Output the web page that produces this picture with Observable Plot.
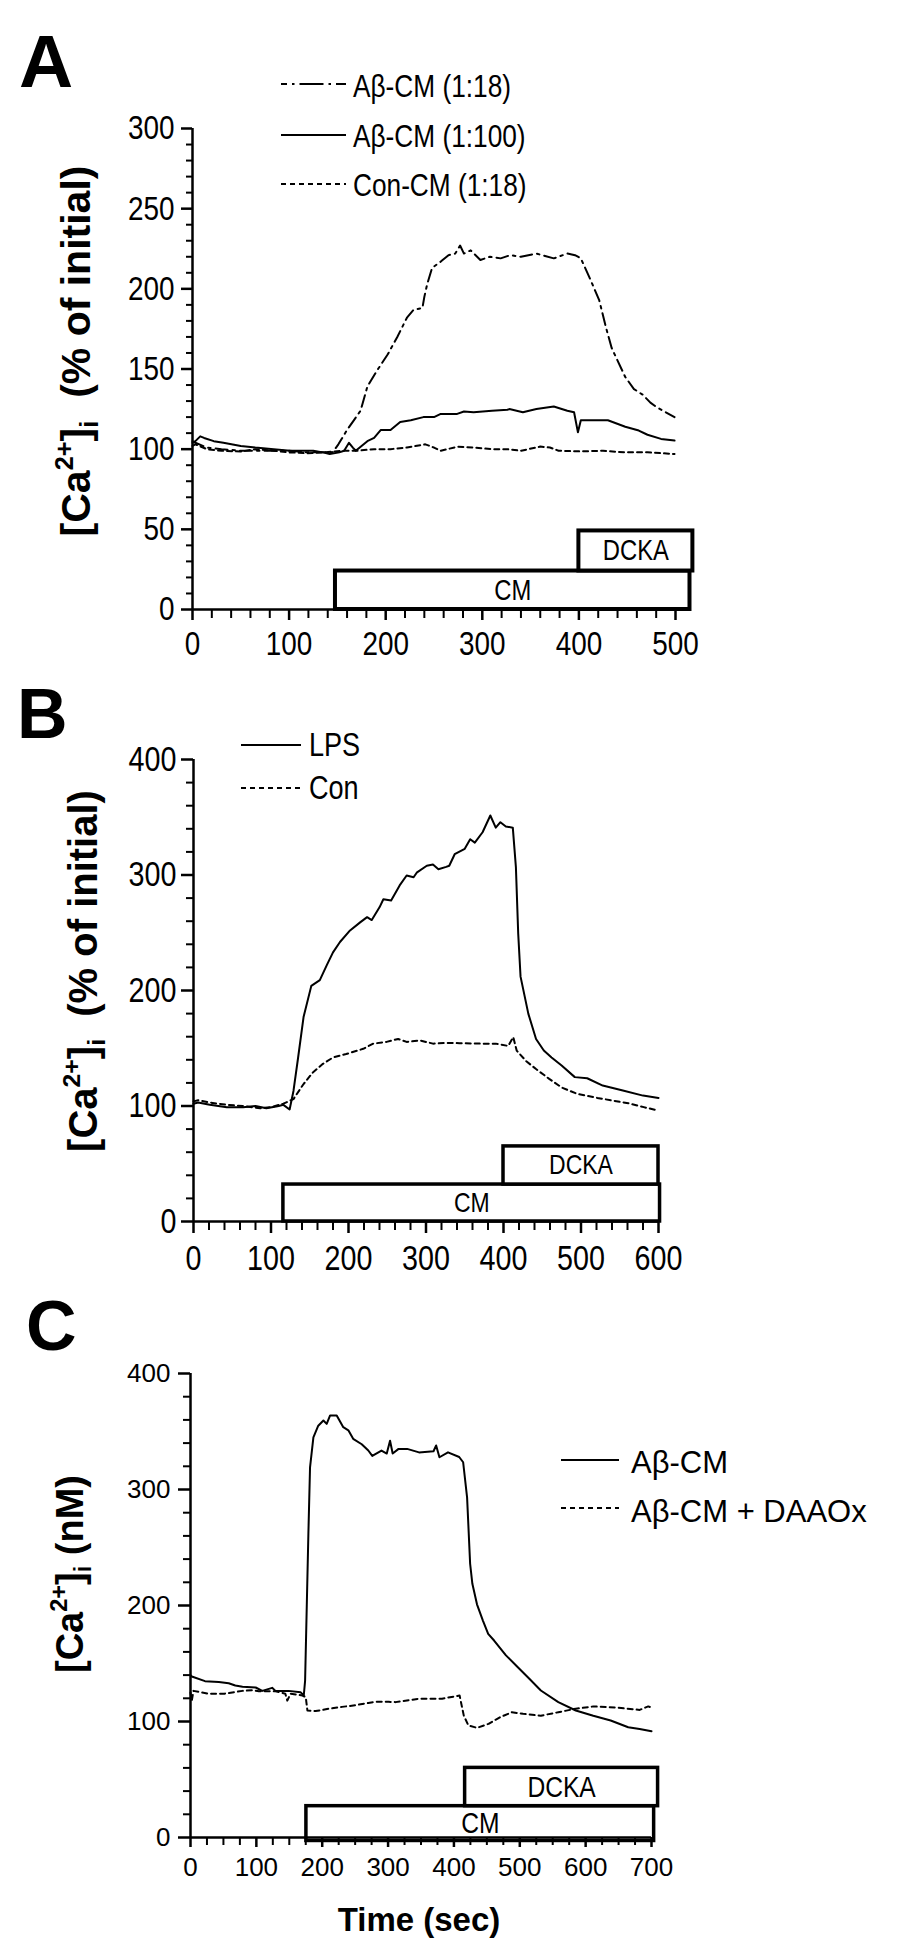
<!DOCTYPE html>
<html><head><meta charset="utf-8">
<script src="https://cdn.jsdelivr.net/npm/d3@7"></script>
<script src="https://cdn.jsdelivr.net/npm/@observablehq/plot@0.6"></script>
<style>
html,body{margin:0;padding:0;background:#fff;}
#page{position:relative;width:912px;height:1960px;background:#fff;overflow:hidden;}
#page > svg{position:absolute;left:0;}
#overlay{position:absolute;left:0;top:0;}
</style></head><body><div id="page"></div>
<script>
// ---------------- Panel A data (time in s, [Ca2+]i as % of initial) ----------------
const aTime118 = [0,3,15,30,50,70,84,100,119,135,145,151,160,167,174,181,191,202,212,222,229,238,240,243,248,257,265,272,277,281,288,298,308,319,329,340,356,374,388,396,402,411,421,428,434,448,457,466,474,481,490,499];
const aVal118  = [105,104,101,100,99,99,99,99,98,98,98,103,112,118,124,139,149,159,170,182,187,188,195,203,213,217,221,222,227,222,224,218,220,219,221,220,222,219,222,221,219,207,193,176,163,145,137.5,134,129,126,123,120];
const aTime1100 = [0,3,8,12,22,32,50,65,84,101,115,125,135,142,152,157,162,166,169,175,181,188,195,205,215,226,239,250,257,274,281,291,310,326,328,342,356,374,388,395,399,402,415,430,448,462,471,485,499];
const aVal1100  = [104,105,108,107,105,104,102,101,100,99,99,99,98,97,98,99,104,101,99,102,105,107,112,112,117,118,120,120,122,122,123.5,123,124,124.6,125,123,125,126.6,124,123,110.5,118,118,118,114,111.6,109,106.4,105.4];
const aTimeCon = [0,3,15,30,50,65,84,100,119,135,155,170,188,205,222,241,250,257,274,291,310,326,340,360,370,379,402,425,448,471,499];
const aValCon  = [102,103,100,99,98.5,100,99,98,97.5,98,99,99,100,100,101,103,101,99,101.5,101,100,100,99,101.6,101,99,98.6,99,98,98,97];
const aBoxes = [
  {label: "CM",   start: 148, end: 515, low: 0,  high: 24},
  {label: "DCKA", start: 400, end: 518, low: 24, high: 49}
];
const aXTicks = [0,100,200,300,400,500];
const aXMinor = [20,40,60,80,120,140,160,180,220,240,260,280,320,340,360,380,420,440,460,480];
const aYTicks = [0,50,100,150,200,250,300];
const aYMinor = [10,20,30,40,60,70,80,90,110,120,130,140,160,170,180,190,210,220,230,240,260,270,280,290];

// ---------------- Panel B data ----------------
const bTimeLPS = [0,6,21,43,64,80,94,110,116,124,129,135,142,152,163,172,180,189,202,215,224,230,240,245,255,266,275,284,288,301,309,316,326,330,337,350,357,363,373,383,390,396,403,412,416,419,422,432,442,452,462,475,492,508,528,554,580,600];
const bValLPS  = [102,103,101,99,99,100,98,100,101,97,113,142,177,204,209,222,233,242,252,259,263.5,261,272,279,278,291,299.6,298,302,308,309,305,307,308,318,322.7,331,328,337,351.5,341,345.7,342,341,306.8,249,212,180,158,148,142,135,125,124,117.7,113.4,109,107];
const bTimeCon = [0,6,21,43,64,86,100,116,129,142,154,167,180,197,219,232,249,264,275,292,309,326,343,370,390,406,412.6,417,429,442,459,475,495,521,561,581,600];
const bValCon  = [104,105,103,101,100,98,99,102,106,119,129,136.5,142,145,149.5,154,155.5,158,155.5,156.8,154,154.6,154.4,154,154,152,159.6,148,139,132,123.5,116,110.5,107,102.4,99,96];
const bBoxes = [
  {label: "CM",   start: 116, end: 602, low: 0,  high: 32},
  {label: "DCKA", start: 400, end: 600, low: 32, high: 65}
];
const bXTicks = [0,100,200,300,400,500,600];
const bXMinor = [20,40,60,80,120,140,160,180,220,240,260,280,320,340,360,380,420,440,460,480,520,540,560,580];
const bYTicks = [0,100,200,300,400];
const bYMinor = [20,40,60,80,120,140,160,180,220,240,260,280,320,340,360,380];

// ---------------- Panel C data ([Ca2+]i in nM) ----------------
const cTimeAb = [0,2,22,43,58,68,79,99,109,124,129,149,167,172,174,179,181.5,186.6,194,201.8,206.8,212,222,232,239.7,247,260,270,276,290,298,303,307,316,329,347,369,373,378,391,408,414,420,424.6,428,435,444,452,461,479,497,514.5,532,558.5,585,611.6,638,664.6,682,700];
const cValAb  = [140,138.8,134.8,134,133,131,130,129.3,126.4,129,126.4,126.4,125.3,122.4,135,261.8,319,345,355,359.5,356.6,363.8,363.8,353.7,351,343.7,339,333.6,329,333.6,331,342,331,335,335,332,333,338,327.8,332,328,323.5,293,236,218.7,201,187,175.6,169.8,157,146.8,136.8,126.7,116.7,109.5,105,100.9,95,93.6,91.6];
const cTimeDaao = [0,2,4.5,27,52,79,94,104,129,144,147,152,170,175,177.5,190,210,230,250,270,280.6,300.8,311.5,347,382,408.6,415,422,435,452.6,470,488,505,532,558.5,585,611.6,647,682,695,700];
const cValDaao  = [125,118,126.4,123.9,124,126.4,127,126,126,124,118,124,122.4,121,109.5,109,111,112.6,114,116,117,117,116.7,119.6,119.6,122.4,105,96.6,94.5,98,103.7,108,106.6,105,108,111,113,112,110,113,112];
const cBoxes = [
  {label: "CM",   start: 176, end: 704, low: -3, high: 27},
  {label: "DCKA", start: 417, end: 710, low: 27, high: 60}
];
const cXTicks = [0,100,200,300,400,500,600,700];
const cXMinor = [25,50,75,125,150,175,225,250,275,325,350,375,425,450,475,525,550,575,625,650,675];
const cYTicks = [0,100,200,300,400];
const cYMinor = [20,40,60,80,120,140,160,180,220,240,260,280,320,340,360,380];

// ---------------- drawing ----------------
const FONT = "'Liberation Sans', Arial, Helvetica, sans-serif";
const DASHDOT = "12,5,2.5,5";
const DOTTED = "5,4";
const NARROW_FACTOR = 0.82;   // the original uses a narrow (condensed) sans face
const page = document.getElementById("page");

// condense text horizontally (Arial-Narrow look) while keeping it real text
function narrow(nodes) {
  nodes.forEach(t => {
    const len = t.getComputedTextLength();
    if (len > 0) {
      t.setAttribute("textLength", (len * NARROW_FACTOR).toFixed(2));
      t.setAttribute("lengthAdjust", "spacingAndGlyphs");
    }
  });
}

function panel(cfg) {
  const marks = [];
  cfg.series.forEach(s => marks.push(Plot.line(s.v, {x: s.t, y: s.v, stroke: "black", strokeWidth: 2, strokeDasharray: s.dash})));
  marks.push(Plot.rect(cfg.boxes, {x1: "start", x2: "end", y1: "low", y2: "high", fill: "white", stroke: "black", strokeWidth: cfg.boxStroke}));
  marks.push(Plot.text(cfg.boxes, {x: d => (d.start + d.end) / 2, y: d => (d.low + d.high) / 2, text: "label", fontSize: cfg.boxFont, fill: "black"}));
  marks.push(Plot.ruleX([0], {stroke: "black", strokeWidth: 2.5}));
  marks.push(Plot.ruleY([0], {stroke: "black", strokeWidth: 2.5}));
  marks.push(Plot.axisY({ticks: cfg.yTicks, tickSize: cfg.yTickSize, tickPadding: cfg.yPad, strokeWidth: 2.5, label: null, fontSize: cfg.tickFont}));
  marks.push(Plot.axisY({ticks: cfg.yMinor, tickSize: cfg.yMinorSize, tickFormat: () => "", strokeWidth: 2, label: null}));
  marks.push(Plot.axisX({ticks: cfg.xTicks, tickSize: cfg.xTickSize, tickPadding: cfg.xPad, strokeWidth: 2.5, label: null, fontSize: cfg.tickFont}));
  marks.push(Plot.axisX({ticks: cfg.xMinor, tickSize: cfg.xMinorSize, tickFormat: () => "", strokeWidth: 2, label: null}));
  const svg = Plot.plot({
    width: 912, height: cfg.height,
    marginTop: cfg.mt, marginBottom: cfg.mb, marginLeft: cfg.ml, marginRight: cfg.mr,
    x: {domain: cfg.xDomain, axis: null},
    y: {domain: cfg.yDomain, axis: null},
    style: {fontFamily: FONT, fontSize: cfg.tickFont + "px", color: "black", background: "transparent", overflow: "visible"},
    marks
  });
  svg.style.top = cfg.top + "px";
  page.appendChild(svg);
  narrow(svg.querySelectorAll(cfg.narrowAll ? "text" : 'g[aria-label="text"] text'));
}

panel({
  top: 0, height: 680, mt: 128, mb: 71, ml: 192, mr: 237,
  xDomain: [0, 500], yDomain: [0, 300],
  series: [{t: aTime118, v: aVal118, dash: DASHDOT}, {t: aTime1100, v: aVal1100}, {t: aTimeCon, v: aValCon, dash: DOTTED}],
  boxes: aBoxes, boxStroke: 4, boxFont: 29,
  yTicks: aYTicks, yMinor: aYMinor, xTicks: aXTicks, xMinor: aXMinor,
  yTickSize: 11, yMinorSize: 6, yPad: 7, xTickSize: 11, xMinorSize: 9, xPad: 10, tickFont: 34, narrowAll: true
});
panel({
  top: 700, height: 600, mt: 59, mb: 79, ml: 193, mr: 254,
  xDomain: [0, 600], yDomain: [0, 400],
  series: [{t: bTimeLPS, v: bValLPS}, {t: bTimeCon, v: bValCon, dash: DOTTED}],
  boxes: bBoxes, boxStroke: 3.5, boxFont: 28,
  yTicks: bYTicks, yMinor: bYMinor, xTicks: bXTicks, xMinor: bXMinor,
  yTickSize: 12, yMinorSize: 7, yPad: 5, xTickSize: 12, xMinorSize: 9, xPad: 12, tickFont: 35, narrowAll: true
});
panel({
  top: 1300, height: 660, mt: 73, mb: 123, ml: 190, mr: 261,
  xDomain: [0, 700], yDomain: [0, 400],
  series: [{t: cTimeAb, v: cValAb}, {t: cTimeDaao, v: cValDaao, dash: DOTTED}],
  boxes: cBoxes, boxStroke: 3.5, boxFont: 30,
  yTicks: cYTicks, yMinor: cYMinor, xTicks: cXTicks, xMinor: cXMinor,
  yTickSize: 12, yMinorSize: 7, yPad: 8, xTickSize: 10, xMinorSize: 8, xPad: 10, tickFont: 26, narrowAll: false
});

// ---------------- overlay: panel letters, legends, axis titles ----------------
function caLabel(size, rest) {
  const s = size * 0.62, up = Math.round(size * 0.42), dn = Math.round(size * 0.2);
  return `[Ca<tspan font-size="${s}" dy="${-up}">2+</tspan><tspan dy="${up}">]</tspan>` +
         `<tspan font-size="${s}" dy="${dn}">i</tspan><tspan dy="${-dn}" style="white-space:pre">${rest}</tspan>`;
}
function legendRow(x1, x2, y, tx, ty, fs, cls, label, dash) {
  return `<line x1="${x1}" x2="${x2}" y1="${y}" y2="${y}" stroke="black" stroke-width="2"${dash ? ` stroke-dasharray="${dash}"` : ""}/>` +
         `<text class="${cls}" x="${tx}" y="${ty}" font-size="${fs}">${label}</text>`;
}
const legendA = ["Aβ-CM (1:18)", "Aβ-CM (1:100)", "Con-CM (1:18)"];
const legendB = ["LPS", "Con"];
const legendC = ["Aβ-CM", "Aβ-CM + DAAOx"];

const ov = `<svg id="overlay" width="912" height="1960" xmlns="http://www.w3.org/2000/svg" style="font-family:${FONT}" fill="black">
  <text x="19" y="87" font-size="75" font-weight="bold">A</text>
  <text x="17" y="738" font-size="70" font-weight="bold">B</text>
  <text x="26" y="1350" font-size="70" font-weight="bold">C</text>
  ${legendRow(281, 346, 84, 353, 97, 32, "nar", legendA[0], "6,5,2.5,5,18,0")}
  ${legendRow(281, 346, 135, 353, 147, 32, "nar", legendA[1])}
  ${legendRow(281, 346, 184, 353, 196, 32, "nar", legendA[2], DOTTED)}
  ${legendRow(241, 301, 745, 309, 756, 33, "nar", legendB[0])}
  ${legendRow(241, 301, 788, 309, 799, 33, "nar", legendB[1], DOTTED)}
  ${legendRow(561, 619, 1460, 631, 1473, 31, "reg", legendC[0])}
  ${legendRow(561, 619, 1508, 631, 1522, 31, "reg", legendC[1], DOTTED)}
  <text transform="translate(90,351) rotate(-90)" text-anchor="middle" font-size="41" font-weight="bold">${caLabel(41, "  (% of initial)")}</text>
  <text transform="translate(97,971) rotate(-90)" text-anchor="middle" font-size="40" font-weight="bold">${caLabel(40, "  (% of initial)")}</text>
  <text transform="translate(83,1574) rotate(-90)" text-anchor="middle" font-size="38" font-weight="bold">${caLabel(38, " (nM)")}</text>
  <text x="419" y="1931" text-anchor="middle" font-size="33" font-weight="bold">Time (sec)</text>
</svg>`;
page.insertAdjacentHTML("beforeend", ov);
narrow(document.querySelectorAll("#overlay text.nar"));
</script></body></html>
